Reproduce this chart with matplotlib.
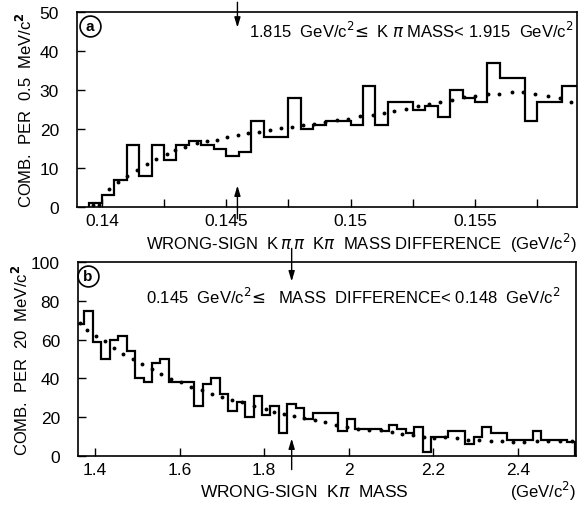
import numpy as np
import matplotlib
matplotlib.use("Agg")
import matplotlib.pyplot as plt

plt.rcParams['font.family'] = ['Liberation Sans', 'DejaVu Sans']

# --- panel (a): wrong-sign K pi pi - K pi mass difference, 0.5 MeV bins ---
dm_edge0, dm_width = 0.1395, 0.0005
dm_counts = [1, 3, 7, 16, 8, 16, 12, 16, 17, 16,
             15, 13, 14, 22, 18, 18, 28, 20, 21, 22,
             22, 21, 31, 21, 27, 27, 25, 26, 23, 30,
             28, 27, 37, 33, 33, 22, 27, 27, 31, 31]
dm_fit_x = [0.13965, 0.1399, 0.14027, 0.14064, 0.14103, 0.14140, 0.14181,
            0.14218, 0.14261, 0.14296, 0.14333, 0.14381, 0.14422, 0.14462,
            0.14505, 0.14548, 0.14588, 0.14632, 0.14676, 0.14719, 0.14763,
            0.14807, 0.14853, 0.14899, 0.14946, 0.14991, 0.15039, 0.15089,
            0.15133, 0.15176, 0.15223, 0.15269, 0.15316, 0.15359, 0.15406,
            0.15454, 0.15501, 0.15551, 0.15598, 0.15647, 0.15693, 0.15741,
            0.15792, 0.15842, 0.15886]
dm_fit_y = [0.5, 0.5, 4.5, 6.3, 8.0, 9.6, 11.0, 12.4, 13.6, 14.5, 15.3, 16.4,
            16.9, 17.3, 17.9, 18.4, 19.0, 19.3, 19.7, 20.2, 20.5, 21.0, 21.4,
            21.8, 22.3, 22.6, 23.3, 23.7, 24.2, 24.6, 25.2, 25.8, 26.3, 26.9,
            27.5, 28.1, 28.4, 28.9, 29.1, 29.4, 29.4, 29.0, 28.5, 27.9, 26.9]

# --- panel (b): wrong-sign K pi mass, 20 MeV bins ---
m_edge0, m_width = 1.355, 0.02
m_counts = [68, 75, 59, 50, 60, 62, 54, 40, 38, 48,
            50, 38, 38, 38, 26, 37, 40, 32, 23, 28,
            20, 31, 21, 26, 12, 27, 25, 19, 22, 22,
            22, 13, 19, 14, 14, 14, 13, 16, 14, 12,
            15, 2, 10, 10, 13, 13, 6, 10, 15, 12,
            12, 8, 8, 8, 13, 8, 8, 8, 7]
m_fit_x = [1.3645, 1.3818, 1.4016, 1.4236, 1.4449, 1.4670, 1.4906, 1.5119,
           1.5340, 1.5568, 1.5804, 1.6026, 1.6277, 1.6522, 1.6773, 1.7010,
           1.7232, 1.7482, 1.7760, 1.8035, 1.8240, 1.8476, 1.8712, 1.8950,
           1.9200, 1.9437, 1.9690, 1.9950, 2.0225, 2.0477, 2.0760, 2.1013,
           2.1265, 2.1525, 2.1780, 2.2022, 2.2274, 2.2550, 2.2825, 2.3077,
           2.3360, 2.3613, 2.3889, 2.4149, 2.4440, 2.4716, 2.4992, 2.5267]
m_fit_y = [68.7, 65.1, 61.9, 59.1, 55.7, 52.8, 50.2, 47.3, 45.1, 42.2, 39.9,
           37.9, 35.8, 34.1, 32.2, 30.5, 28.8, 27.9, 26.0, 24.2, 22.9, 21.6,
           20.4, 19.5, 18.6, 17.4, 16.0, 14.8, 13.9, 13.6, 13.4, 12.2, 11.3,
           10.8, 10.0, 9.1, 9.6, 9.1, 8.4, 8.4, 7.9, 7.9, 7.4, 7.4, 7.6, 7.6,
           7.6, 7.8]


def draw_hist(ax, edge0, width, counts):
    edges = edge0 + width * np.arange(len(counts) + 1)
    ax.stairs(counts, edges, color="black", lw=1.6, baseline=0)


def style(ax):
    for s in ax.spines.values():
        s.set_linewidth(1.2)
    ax.tick_params(which="both", direction="in", top=False, right=False,
                   labelsize=12.5, width=1.0, length=6)
    ax.tick_params(axis="y", pad=13)
    ax.tick_params(axis="x", pad=4)


def arrows(ax, x, ytop_out, ytop_in, ybot_out, ybot_in):
    kw = dict(arrowstyle="-|>,head_length=0.6,head_width=0.18", lw=1.0,
              color="black", shrinkA=0, shrinkB=0)
    ax.annotate("", (x, ytop_in), (x, ytop_out), xycoords="data",
                arrowprops=kw, annotation_clip=False)
    ax.annotate("", (x, ybot_in), (x, ybot_out), xycoords="data",
                arrowprops=kw, annotation_clip=False)


fig = plt.figure(figsize=(5.85, 5.06), dpi=100)
ax1 = fig.add_axes([0.1316, 0.5889, 0.8547, 0.3854])
ax2 = fig.add_axes([0.1333, 0.0968, 0.8513, 0.3834])

# panel (a)
draw_hist(ax1, dm_edge0, dm_width, dm_counts)
ax1.plot(dm_fit_x, dm_fit_y, "o", color="black", ms=2.8, mew=0)
ax1.set_xlim(0.139, 0.1591)
ax1.set_ylim(0, 50)
ax1.set_xticks([0.14, 0.145, 0.15, 0.155])
ax1.set_xticklabels(["0.14", "0.145", "0.15", "0.155"])
ax1.set_xticks([0.1425, 0.1475, 0.1525, 0.1575], minor=True)
ax1.set_yticks([0, 10, 20, 30, 40, 50])
style(ax1)
ax1.set_ylabel("COMB.  PER  0.5  MeV/c$^\\mathbf{2}$", fontsize=12, labelpad=3)
ax1.text(0.999, -0.18,
         "WRONG-SIGN  K$\\,\\pi\\,\\pi$  K$\\pi$  MASS DIFFERENCE  (GeV/c$^2$)",
         transform=ax1.transAxes, fontsize=12, ha="right", va="center")
ax1.text(0.345, 0.91, "1.815  GeV/c$^2\\!\\leq$ K $\\pi$ MASS< 1.915  GeV/c$^2$",
         transform=ax1.transAxes, fontsize=12, va="center")
ax1.plot(0.026, 0.928, "o", transform=ax1.transAxes, ms=15, mfc="white",
         mec="black", mew=1.2, clip_on=False)
ax1.text(0.026, 0.928, "a", transform=ax1.transAxes, ha="center", va="center",
         fontsize=11, fontweight="bold")
arrows(ax1, 0.14545, 52.5, 46, -3, 5.5)

# panel (b)
draw_hist(ax2, m_edge0, m_width, m_counts)
ax2.plot(m_fit_x, m_fit_y, "o", color="black", ms=2.8, mew=0)
ax2.set_xlim(1.36, 2.537)
ax2.set_ylim(0, 100)
ax2.set_xticks([1.4, 1.6, 1.8, 2.0, 2.2, 2.4])
ax2.set_xticklabels(["1.4", "1.6", "1.8", "2", "2.2", "2.4"])
ax2.set_yticks([0, 20, 40, 60, 80, 100])
style(ax2)
ax2.set_ylabel("COMB.  PER  20  MeV/c$^\\mathbf{2}$", fontsize=12, labelpad=0)
ax2.text(0.455, -0.18, "WRONG-SIGN  K$\\pi$  MASS", transform=ax2.transAxes,
         fontsize=12.5, ha="center", va="center")
ax2.text(0.935, -0.18, "(GeV/c$^2$)", transform=ax2.transAxes, fontsize=12,
         ha="center", va="center")
ax2.text(0.137, 0.825,
         "0.145  GeV/c$^2\\!\\leq$  MASS  DIFFERENCE< 0.148  GeV/c$^2$",
         transform=ax2.transAxes, fontsize=12, va="center")
ax2.plot(0.02, 0.928, "o", transform=ax2.transAxes, ms=15, mfc="white",
         mec="black", mew=1.2, clip_on=False)
ax2.text(0.02, 0.928, "b", transform=ax2.transAxes, ha="center", va="center",
         fontsize=11, fontweight="bold")
arrows(ax2, 1.865, 107, 90, -7, 9)

fig.savefig("out.png", dpi=100)
